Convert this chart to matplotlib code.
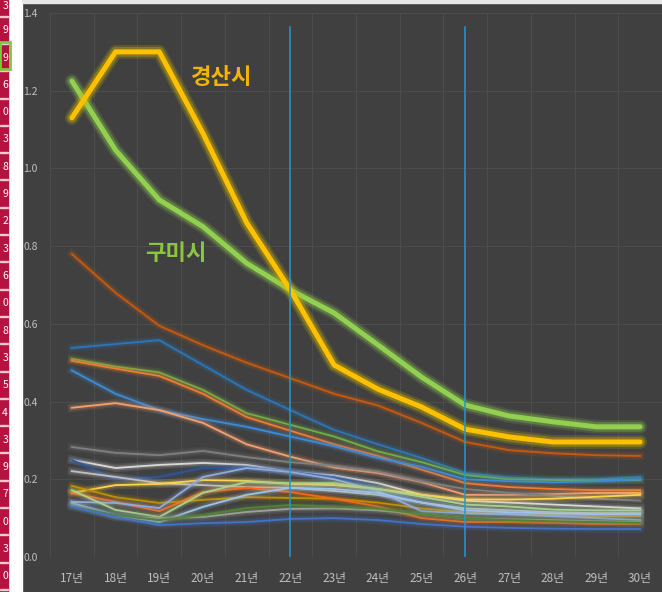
import matplotlib.pyplot as plt
import matplotlib.patheffects as pe
from matplotlib.patches import Rectangle

plt.rcParams['font.family'] = ['Noto Sans CJK KR', 'DejaVu Sans']

years = [17, 18, 19, 20, 21, 22, 23, 24, 25, 26, 27, 28, 29, 30]
year_labels = [str(y) + '년' for y in years]

# two highlighted cities
gyeongsan = [1.13, 1.30, 1.30, 1.09, 0.86, 0.687, 0.494, 0.432, 0.386, 0.329, 0.309, 0.296, 0.296, 0.296]
gumi = [1.225, 1.047, 0.919, 0.85, 0.756, 0.687, 0.628, 0.546, 0.463, 0.391, 0.363, 0.348, 0.335, 0.335]

# the other cities (thin lines)
others = [
    [0.78, 0.68, 0.595, 0.545, 0.50, 0.46, 0.42, 0.39, 0.345, 0.296, 0.275, 0.267, 0.262, 0.26],
    [0.538, 0.548, 0.558, 0.494, 0.43, 0.378, 0.327, 0.29, 0.255, 0.216, 0.205, 0.2, 0.2, 0.206],
    [0.51, 0.49, 0.475, 0.43, 0.37, 0.34, 0.31, 0.272, 0.244, 0.211, 0.2, 0.198, 0.197, 0.198],
    [0.505, 0.485, 0.466, 0.42, 0.36, 0.325, 0.29, 0.26, 0.225, 0.19, 0.18, 0.175, 0.172, 0.172],
    [0.48, 0.42, 0.378, 0.355, 0.335, 0.31, 0.285, 0.255, 0.232, 0.2, 0.195, 0.192, 0.195, 0.2],
    [0.384, 0.396, 0.378, 0.345, 0.29, 0.258, 0.23, 0.216, 0.193, 0.16, 0.16, 0.162, 0.165, 0.165],
    [0.283, 0.268, 0.262, 0.273, 0.257, 0.244, 0.235, 0.22, 0.195, 0.175, 0.165, 0.158, 0.15, 0.145],
    [0.25, 0.229, 0.237, 0.242, 0.237, 0.219, 0.21, 0.19, 0.16, 0.145, 0.14, 0.135, 0.13, 0.125],
    [0.25, 0.2, 0.206, 0.229, 0.23, 0.22, 0.205, 0.18, 0.14, 0.12, 0.112, 0.108, 0.105, 0.105],
    [0.221, 0.206, 0.19, 0.185, 0.18, 0.178, 0.17, 0.16, 0.14, 0.125, 0.12, 0.115, 0.113, 0.113],
    [0.165, 0.185, 0.188, 0.198, 0.196, 0.188, 0.185, 0.175, 0.16, 0.148, 0.148, 0.15, 0.155, 0.16],
    [0.183, 0.154, 0.139, 0.147, 0.154, 0.152, 0.15, 0.14, 0.125, 0.115, 0.11, 0.108, 0.105, 0.105],
    [0.165, 0.142, 0.118, 0.167, 0.178, 0.167, 0.15, 0.13, 0.1, 0.09, 0.09, 0.088, 0.085, 0.085],
    [0.142, 0.139, 0.126, 0.206, 0.229, 0.219, 0.2, 0.17, 0.118, 0.112, 0.11, 0.105, 0.1, 0.095],
    [0.172, 0.121, 0.103, 0.165, 0.193, 0.19, 0.19, 0.175, 0.155, 0.135, 0.13, 0.122, 0.12, 0.12],
    [0.139, 0.108, 0.09, 0.129, 0.16, 0.178, 0.175, 0.165, 0.14, 0.12, 0.115, 0.112, 0.11, 0.11],
    [0.134, 0.103, 0.1, 0.103, 0.116, 0.124, 0.125, 0.12, 0.11, 0.1, 0.097, 0.095, 0.092, 0.09],
    [0.129, 0.108, 0.095, 0.108, 0.126, 0.134, 0.13, 0.125, 0.11, 0.1, 0.095, 0.092, 0.09, 0.088],
    [0.129, 0.103, 0.082, 0.087, 0.09, 0.098, 0.1, 0.095, 0.085, 0.078, 0.075, 0.073, 0.072, 0.072],
]
other_colors = ['#C55A11', '#2E75B6', '#70AD47', '#ED7D31', '#3D8BD6', '#F4A070',
                '#7F7F7F', '#D9D9D9', '#2F5597', '#BFBFBF', '#FFD34D', '#BF9000',
                '#F46A1A', '#8FAADC', '#A9D18E', '#9DC3E6', '#A5A5A5', '#548235', '#4472C4']

marks = [22, 26]
cell_digits = ['3', '9', '9', '6', '0', '3', '8', '9', '2', '3', '6', '0',
               '8', '3', '5', '4', '3', '9', '7', '0', '3', '0']

W, H = 662, 592
fig = plt.figure(figsize=(W / 100, H / 100), dpi=100, facecolor='#404040')

# spreadsheet bits to the left of the chart
fig.patches.append(Rectangle((0, 0), 22 / W, 1, transform=fig.transFigure, color='white', zorder=0))
fig.patches.append(Rectangle((22 / W, 1 - 3 / H), 1, 3 / H, transform=fig.transFigure, color='#e6e6e6', zorder=0))
fig.patches.append(Rectangle((0, 0), 8 / W, 1, transform=fig.transFigure, color='#B5123F', zorder=1))
for i, d in enumerate(cell_digits):
    yc = 3 + 27.3 * i
    if i == 0:
        yc = 6
    fig.text(8 / W, 1 - yc / H, d, color='white', fontsize=7.5, ha='right', va='center')
    yb = 3 + 27.3 * i + 13.6
    fig.patches.append(Rectangle((0, 1 - yb / H), 8 / W, 1 / H, transform=fig.transFigure,
                                 color='#f0c8d2', zorder=2))
fig.patches.append(Rectangle((0, 1 - 69 / H), 10 / W, 27 / H, transform=fig.transFigure,
                             fill=False, edgecolor='#7AC943', linewidth=2, zorder=3))

ax = fig.add_axes([50 / W, (H - 557) / H, 612 / W, 544 / H])
ax.set_facecolor('#404040')

for i in range(len(years) + 1):
    ax.axvline(16.5 + i, color='#4c4c4c', linewidth=0.8, zorder=0)
for v in [0.2, 0.4, 0.6, 0.8, 1.0, 1.2, 1.4]:
    ax.axhline(v, color='#4c4c4c', linewidth=0.8, zorder=0)

for vals, c in zip(others, other_colors):
    ax.plot(years, vals, color=c, linewidth=1.3, zorder=2,
            path_effects=[pe.Stroke(linewidth=6, foreground=c, alpha=0.12),
                          pe.Stroke(linewidth=3.5, foreground=c, alpha=0.2), pe.Normal()])

ax.plot(years, gumi, color='#92D050', linewidth=3.6, zorder=4, solid_capstyle='round',
        path_effects=[pe.Stroke(linewidth=10, foreground='#92D050', alpha=0.15),
                      pe.Stroke(linewidth=7, foreground='#92D050', alpha=0.3), pe.Normal()])
ax.plot(years, gyeongsan, color='#FFC000', linewidth=3.6, zorder=4, solid_capstyle='round',
        path_effects=[pe.Stroke(linewidth=10, foreground='#C8B400', alpha=0.2),
                      pe.Stroke(linewidth=7, foreground='#D8B800', alpha=0.35), pe.Normal()])

for m in marks:
    ax.axvline(m, ymin=0, ymax=(557 - 27) / 544, color='#1B9BD7', linewidth=1.1, zorder=6)

ax.text(20.43, 1.233, '경산시', color='#F5B400', fontsize=16, fontweight='bold',
        ha='center', va='center', zorder=7)
ax.text(19.38, 0.782, '구미시', color='#8CC63F', fontsize=16, fontweight='bold',
        ha='center', va='center', zorder=7)

ax.set_xlim(16.5, 30.5)
ax.set_ylim(0, 1.4)
ax.set_xticks(years)
ax.set_xticklabels(year_labels)
ax.set_yticks([0, 0.2, 0.4, 0.6, 0.8, 1.0, 1.2, 1.4])
ax.set_yticklabels(['0.0', '0.2', '0.4', '0.6', '0.8', '1.0', '1.2', '1.4'])
ax.tick_params(axis='y', length=0, pad=9, labelsize=7.5, labelcolor='#bfbfbf')
ax.tick_params(axis='x', length=0, pad=11, labelsize=8.5, labelcolor='#bfbfbf')
for s in ax.spines.values():
    s.set_visible(False)

fig.savefig('out.png', dpi=100, facecolor=fig.get_facecolor())
